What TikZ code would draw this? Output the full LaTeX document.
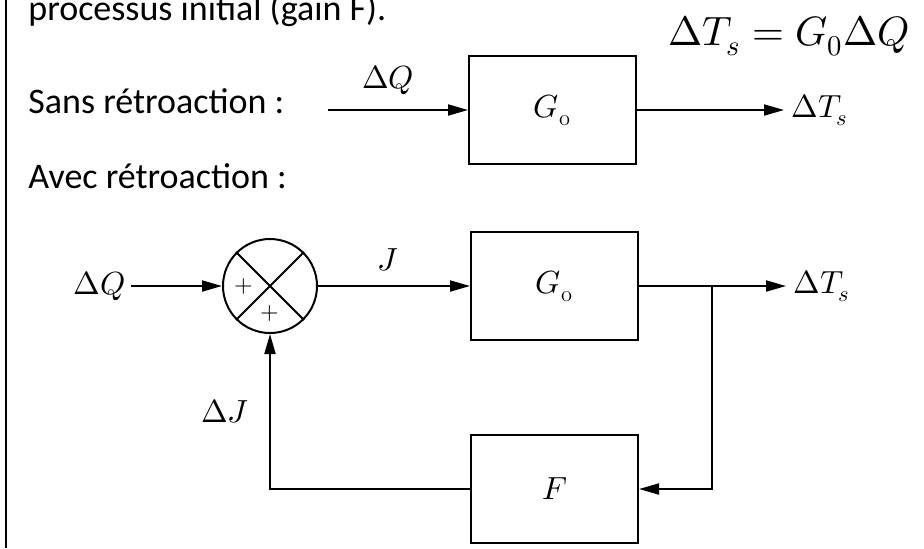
\documentclass[tikz,border=0pt]{standalone}
\usepackage{fontspec}
\usepackage{unicode-math}
\setmathfont{Latin Modern Math}
\newfontfamily\calib{Carlito}
\usetikzlibrary{arrows.meta,positioning}

\begin{document}
\begin{tikzpicture}[
  x=0.5pt,y=-0.5pt,
  every node/.style={font=\fontsize{16}{19}\selectfont},
  blk/.style={draw,line width=1pt,minimum width=83.5pt,
              minimum height=54pt,inner sep=0pt},
  sum/.style={draw,circle,line width=1pt,minimum size=47pt,inner sep=0pt},
  txt/.style={font=\calib\fontsize{18}{22}\selectfont,
              anchor=base west,inner sep=0pt},
  pl/.style={font=\fontsize{12}{14}\selectfont,inner sep=0pt},
  lbl/.style={inner sep=0pt},
  ar/.style={-{Triangle[length=10pt,width=5.5pt]},line width=1pt},
  ln/.style={line width=1pt}
]
\clip (0,0) rectangle (924,548);
\draw[line width=1.3pt] (6,0) -- (6,548);

% texts
\node[txt] (T0) at (28,20) {processus initial (gain F).};
\node[txt] (T1) at (28,113) {Sans rétroaction :};
\node[txt] (T2) at (28,188) {Avec rétroaction :};
\node[anchor=base west,inner sep=0pt,font=\fontsize{20.5}{24}\selectfont]
     (Eq) at (668,45) {$\Delta T_s = G_0\Delta Q$};

% sans retroaction
\node[blk] (G1) at (552.5,110) {$G_\mathrm{o}$};
\coordinate (In1) at (328,110);
\node[right=73.5pt of G1,inner sep=3.5pt] (Ts1) {$\Delta T_s$};
\draw[ar] (In1) -- node[lbl,above=7pt,xshift=-5pt]{$\Delta Q$} (G1);
\draw[ar] (G1) -- (Ts1);

% avec retroaction
\node[sum] (S) at (270,286) {};
\draw[ln] (S.north west) -- (S.south east);
\draw[ln] (S.north east) -- (S.south west);
\node[pl] (Pa) at ([xshift=-13pt]S.center) {$+$};
\node[pl] (Pb) at ([yshift=-13.5pt]S.center) {$+$};
\node[left=45.5pt of S,inner sep=2.5pt] (Q2) {$\Delta Q$};
\node[blk,right=76pt of S] (G2) {$G_\mathrm{o}$};
\node[right=73.5pt of G2,inner sep=3.5pt] (Ts2) {$\Delta T_s$};
\node[blk,below=46.5pt of G2] (F) {$F$};
\coordinate (B) at ([xshift=36.5pt]G2.east);

\draw[ar] (Q2) -- (S);
\draw[ar] (S) -- node[lbl,above=7pt,xshift=-3pt]{$J$} (G2);
\draw[ar] (G2) -- (Ts2);
\draw[ar] (B) |- (F);
\draw[ar] (F) -| node[lbl,pos=0.75,left=10pt]{$\Delta J$} (S);
\end{tikzpicture}
\end{document}
